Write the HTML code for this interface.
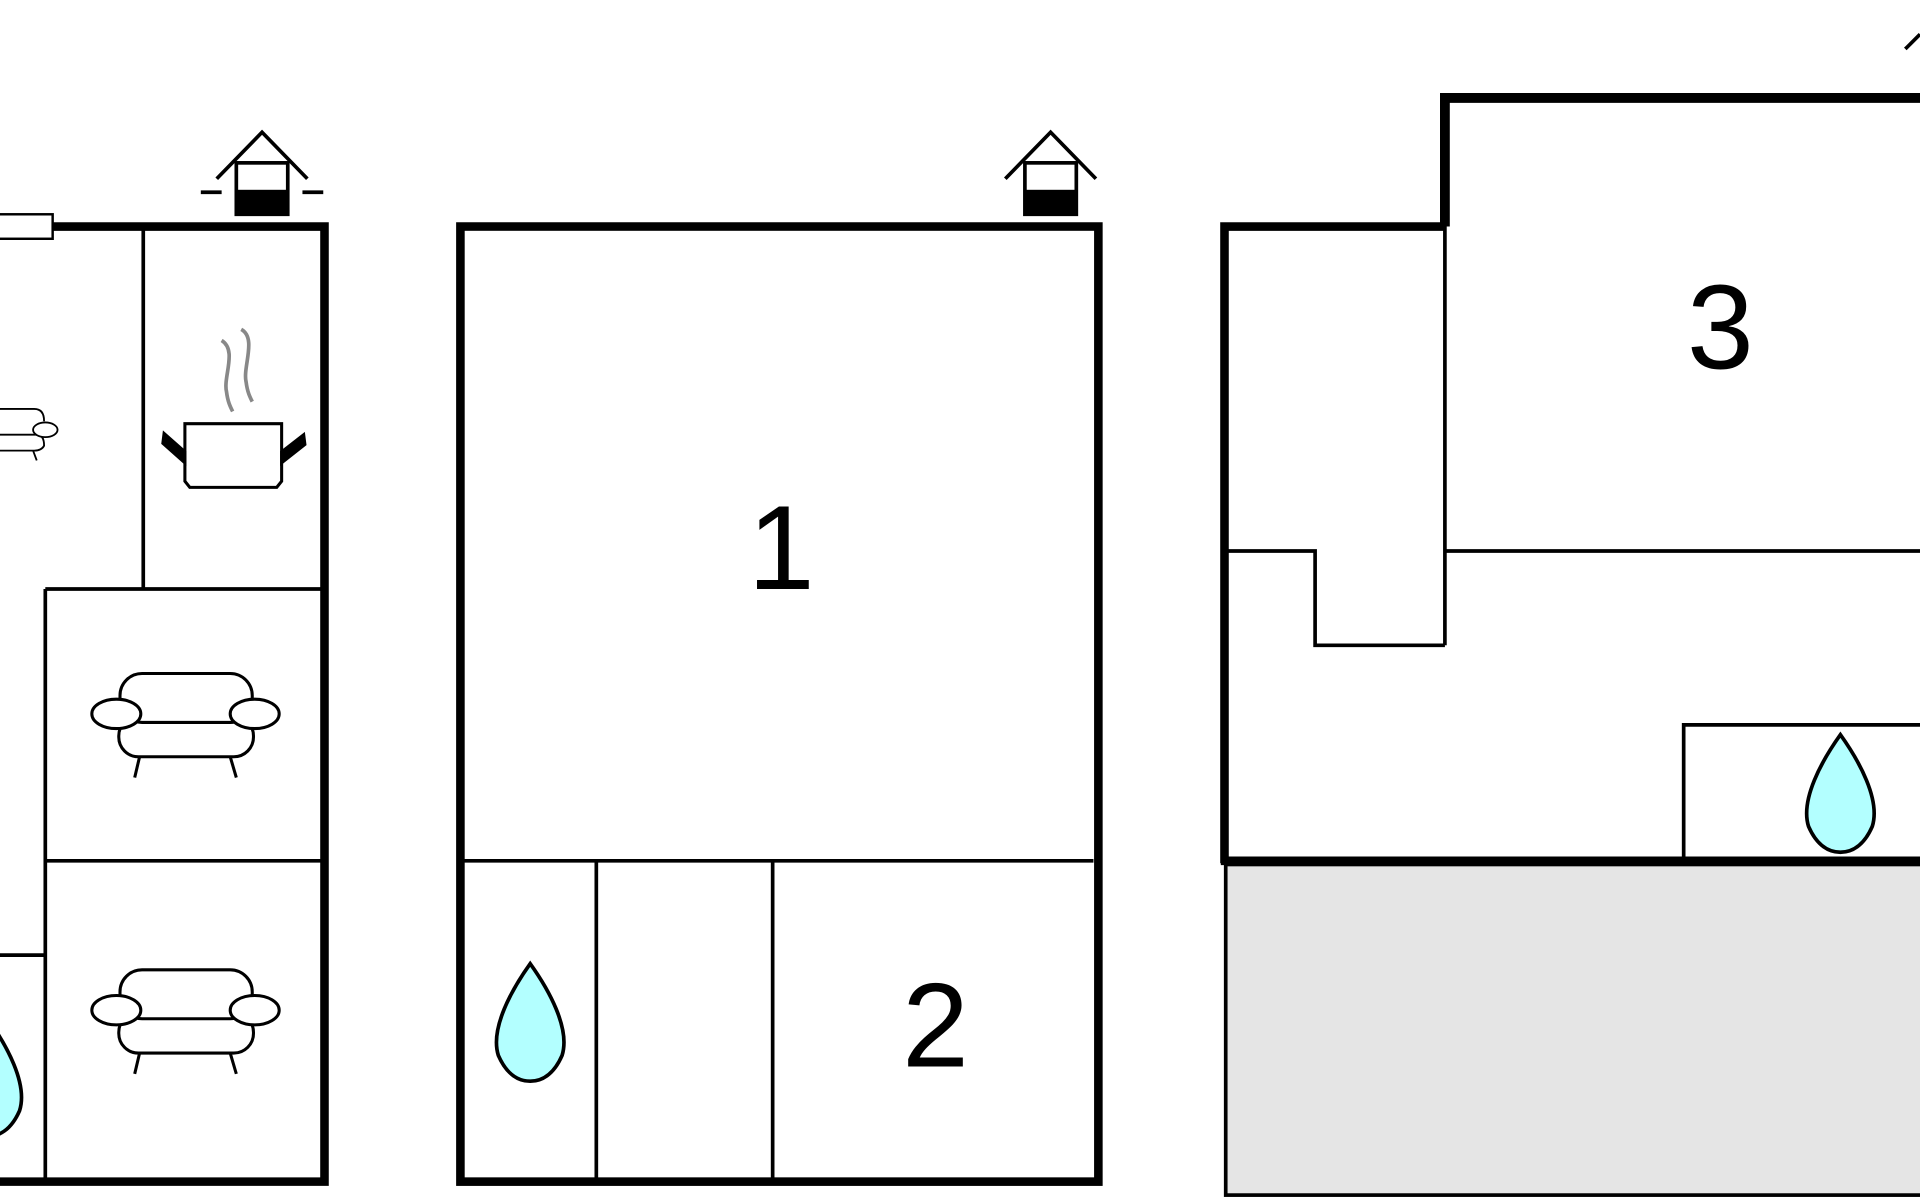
<!DOCTYPE html>
<html><head><meta charset="utf-8"><style>html,body{margin:0;padding:0;background:#fff}svg{display:block}</style></head>
<body>
<svg width="1920" height="1200" viewBox="0 0 1568 980" xmlns="http://www.w3.org/2000/svg" font-family="Liberation Sans, sans-serif">
<defs>
<g id="drop"><path d="M0,0 C-15,21 -33,53 -26,75 C-19,91 -9,96 0,96 C9,96 19,91 26,75 C33,53 15,21 0,0 Z" fill="#b3ffff" stroke="#000" stroke-width="3"/></g>
<g id="chim">
<polyline points="-37,38 0,0 37,38" fill="none" stroke="#000" stroke-width="3"/>
<rect x="-21" y="25" width="42" height="42" fill="#fff" stroke="#000" stroke-width="3"/>
<rect x="-21" y="47" width="42" height="20" fill="#000"/>
</g>
<g id="sofa" fill="#fff" stroke="#000" stroke-width="2.5">
<line x1="-37" y1="35" x2="-41" y2="52"/><line x1="37" y1="35" x2="42" y2="52"/>
<rect x="-54" y="2" width="110" height="33" rx="16"/>
<rect x="-53" y="-33" width="108" height="40" rx="18"/>
<ellipse cx="-56" cy="0" rx="20" ry="12"/><ellipse cx="57" cy="0" rx="20" ry="12"/>
</g>
</defs>
<!-- left building -->
<g stroke="#000" fill="none">
<polyline points="0,185 265,185 265,965 0,965" stroke-width="7"/>
<g stroke-width="3">
<line x1="117" y1="185" x2="117" y2="481"/>
<line x1="37" y1="481" x2="263" y2="481"/>
<line x1="37" y1="481" x2="37" y2="965"/>
<line x1="37" y1="703" x2="263" y2="703"/>
<line x1="0" y1="780" x2="37" y2="780"/>
</g>
<rect x="-2" y="175" width="45" height="20" fill="#fff" stroke-width="2"/>
<line x1="164" y1="157" x2="181" y2="157" stroke-width="3"/>
<line x1="247" y1="157" x2="264" y2="157" stroke-width="3"/>
</g>
<use href="#chim" x="214" y="108"/>
<use href="#chim" x="858" y="108"/>
<!-- pot -->
<g stroke="#000" stroke-width="2.5" fill="#fff">
<path d="M151,346 L230,346 L230,393 L226,398 L155,398 L151,393 Z"/>
<path d="M151,378 L133,362 L134,354 L151,369 Z" fill="#000"/>
<path d="M230,378 L249,363 L248,355 L230,369 Z" fill="#000"/>
<path d="M181,278 C194,286 182,308 185,320 C186,328 188,332 190,336" fill="none" stroke="#888" stroke-width="3"/>
<path d="M197,269 C210,276 198,300 201,312 C202,320 204,324 206,328" fill="none" stroke="#888" stroke-width="3"/>
</g>
<!-- partial sofa left -->
<g stroke="#000" stroke-width="1.5" fill="#fff">
<path d="M0,334 L28,334 Q36,334 36,344"/>
<path d="M0,355 L30,355 Q36,355 36,364 Q34,368 28,368 L0,368"/>
<line x1="27" y1="368" x2="30" y2="376"/>
<ellipse cx="37" cy="351" rx="10" ry="6"/>
</g>
<use href="#sofa" x="151" y="583"/>
<use href="#sofa" x="151" y="825"/>
<use href="#drop" x="-10" y="832"/>
<!-- middle -->
<g stroke="#000" fill="none">
<rect x="376" y="185" width="521" height="780" stroke-width="7"/>
<g stroke-width="3">
<line x1="379" y1="703" x2="893" y2="703"/>
<line x1="487" y1="703" x2="487" y2="965"/>
<line x1="631" y1="703" x2="631" y2="965"/>
</g>
</g>
<text x="638" y="481" font-size="98" text-anchor="middle">1</text>
<text x="764" y="871" font-size="98" text-anchor="middle">2</text>
<use href="#drop" x="433" y="787"/>
<!-- right -->
<rect x="1001" y="706" width="570" height="270" fill="#e5e5e5" stroke="#000" stroke-width="3"/>
<g stroke="#000" fill="none">
<polyline points="1180,185 1180,80 1568,80" stroke-width="8"/>
<polyline points="1180,185 1000,185 1000,705" stroke-width="7"/>
<line x1="997" y1="703" x2="1568" y2="703" stroke-width="7"/>
<g stroke-width="3">
<line x1="1180" y1="185" x2="1180" y2="527"/>
<polyline points="1003,450 1074,450 1074,527 1180,527"/>
<line x1="1180" y1="450" x2="1568" y2="450"/>
<polyline points="1375,703 1375,592 1568,592"/>
<line x1="1556" y1="40" x2="1568" y2="28"/>
</g>
</g>
<text x="1405" y="301" font-size="98" text-anchor="middle">3</text>
<use href="#drop" x="1503" y="600"/>
</svg>
</body></html>
